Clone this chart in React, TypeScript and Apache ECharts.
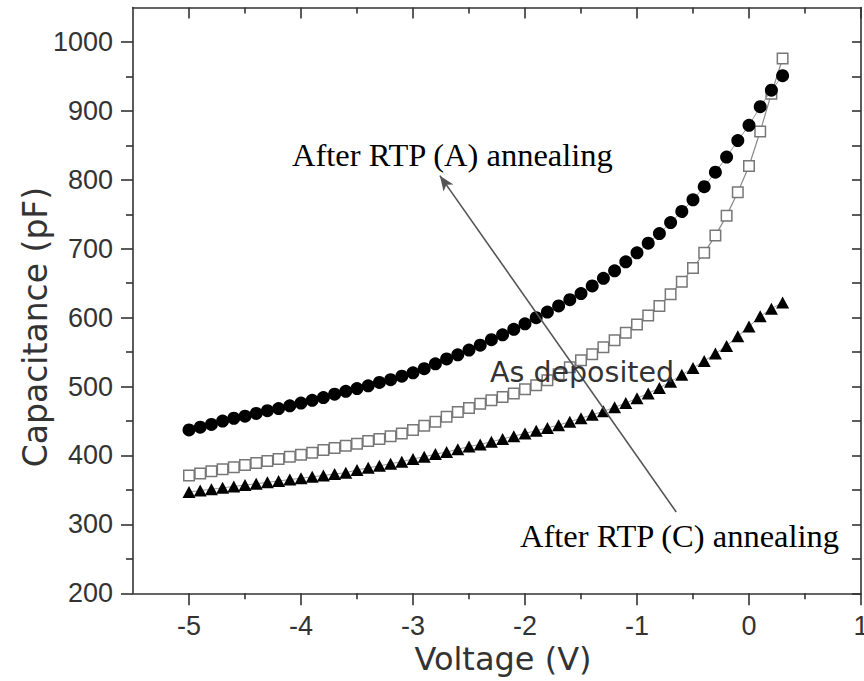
import React, { useEffect, useRef } from "react";
import * as echarts from "echarts";

// Bias voltage (V), 0.1 V steps
const voltage = [
  -5.0, -4.9, -4.8, -4.7, -4.6, -4.5, -4.4, -4.3, -4.2, -4.1,
  -4.0, -3.9, -3.8, -3.7, -3.6, -3.5, -3.4, -3.3, -3.2, -3.1,
  -3.0, -2.9, -2.8, -2.7, -2.6, -2.5, -2.4, -2.3, -2.2, -2.1,
  -2.0, -1.9, -1.8, -1.7, -1.6, -1.5, -1.4, -1.3, -1.2, -1.1,
  -1.0, -0.9, -0.8, -0.7, -0.6, -0.5, -0.4, -0.3, -0.2, -0.1,
  0.0, 0.1, 0.2, 0.3,
];

// Capacitance (pF) after RTP (A) annealing
const capRtpA = [
  437, 441, 445, 450, 454, 457, 461, 465, 468, 472,
  476, 480, 484, 489, 493, 497, 501, 506, 510, 515,
  520, 526, 533, 540, 546, 553, 560, 568, 575, 583,
  591, 600, 608, 617, 626, 635, 646, 657, 668, 681,
  694, 708, 722, 738, 754, 771, 790, 811, 833, 857,
  879, 906, 930, 951,
];

// Capacitance (pF) as deposited
const capAsDeposited = [
  371, 374, 377, 380, 383, 386, 389, 392, 395, 398,
  401, 404, 408, 411, 414, 417, 421, 424, 428, 432,
  437, 443, 449, 456, 463, 469, 475, 480, 485, 490,
  496, 502, 509, 518, 528, 538, 547, 557, 567, 578,
  590, 603, 617, 634, 652, 672, 694, 719, 748, 782,
  820, 870, 925, 976,
];

// Capacitance (pF) after RTP (C) annealing
const capRtpC = [
  347, 349, 351, 353, 355, 357, 359, 361, 363, 365,
  367, 369, 371, 373, 375, 379, 382, 385, 388, 391,
  395, 398, 402, 405, 409, 413, 416, 420, 424, 428,
  432, 436, 440, 444, 449, 454, 459, 464, 470, 476,
  483, 490, 498, 507, 517, 527, 537, 548, 559, 573,
  587, 602, 613, 622,
];

// Axis ticks and labels
const xMajorTicks = [-5, -4, -3, -2, -1, 0, 1];
const xMinorTicks = [-4.5, -3.5, -2.5, -1.5, -0.5, 0.5];
const yMajorTicks = [200, 300, 400, 500, 600, 700, 800, 900, 1000];
const yMinorTicks = [250, 350, 450, 550, 650, 750, 850, 950];

// Arrow from the lower annotation up to the upper one: [voltage, capacitance]
const arrowFrom = [-0.65, 318];
const arrowTo = [-2.76, 806];

const AXIS_COLOR = "#333";
const SANS = "'DejaVu Sans', Verdana, sans-serif";
const LABEL_FONT = "'Liberation Sans', Arial, sans-serif";
const SERIF = "'Liberation Serif', 'Times New Roman', serif";

const pairs = (ys: number[]) => voltage.map((v, i) => [v, ys[i]]);

const X_RANGE = { min: -5.5, max: 1 };
const Y_RANGE = { min: 200, max: 1050 };

function tickAxis(
  position: string,
  values: number[],
  length: number,
  inside: boolean,
  withLine: boolean,
  range: { min: number; max: number }
) {
  return {
    type: "value",
    position,
    ...range,
    splitLine: { show: false },
    axisLine: {
      show: withLine,
      onZero: false,
      lineStyle: { color: AXIS_COLOR, width: 1.6 },
    },
    axisTick: {
      show: true,
      inside,
      length,
      customValues: values,
      lineStyle: { color: AXIS_COLOR, width: 1.6 },
    },
    axisLabel: { show: false },
  };
}

export default function App() {
  const ref = useRef<HTMLDivElement>(null);

  useEffect(() => {
    if (!ref.current) return;
    const chart = echarts.init(ref.current, null, { renderer: "svg" });

    const labelStyle = {
      fontSize: 27,
      fontFamily: LABEL_FONT,
      color: AXIS_COLOR,
      formatter: (v: number) => String(v),
    };

    chart.setOption({
      animation: false,
      backgroundColor: "#fff",
      grid: {
        left: 133,
        top: 7.5,
        width: 728,
        height: 585.8,
        containLabel: false,
        outerBoundsMode: "none",
      },
      xAxis: [
        {
          ...tickAxis("bottom", xMajorTicks, 12, false, true, X_RANGE),
          axisLabel: { show: true, customValues: xMajorTicks, margin: 19, ...labelStyle },
        },
        tickAxis("bottom", xMinorTicks, 6, false, false, X_RANGE),
        tickAxis("top", xMajorTicks, 11, true, true, X_RANGE),
        tickAxis("top", xMinorTicks, 6, true, false, X_RANGE),
      ],
      yAxis: [
        {
          ...tickAxis("left", yMajorTicks, 12, false, true, Y_RANGE),
          axisLabel: { show: true, customValues: yMajorTicks, margin: 20, ...labelStyle },
        },
        tickAxis("left", yMinorTicks, 7, false, false, Y_RANGE),
        tickAxis("right", yMajorTicks, 9, true, true, Y_RANGE),
        tickAxis("right", yMinorTicks, 9, true, false, Y_RANGE),
      ],
      series: [
        {
          name: "As deposited",
          type: "line",
          data: pairs(capAsDeposited),
          symbol: "rect",
          symbolSize: 10.5,
          showAllSymbol: true,
          lineStyle: { color: "#8a8a8a", width: 1.2 },
          itemStyle: { color: "#fff", borderColor: "#777", borderWidth: 1.5 },
          z: 2,
        },
        {
          name: "After RTP (A) annealing",
          type: "line",
          data: pairs(capRtpA),
          symbol: "circle",
          symbolSize: 13,
          showAllSymbol: true,
          lineStyle: { color: "#999", width: 1 },
          itemStyle: { color: "#000" },
          z: 3,
        },
        {
          name: "After RTP (C) annealing",
          type: "line",
          data: pairs(capRtpC),
          symbol: "triangle",
          symbolSize: [13, 12],
          showAllSymbol: true,
          lineStyle: { color: "#999", width: 1 },
          itemStyle: { color: "#000" },
          z: 3,
          markLine: {
            silent: true,
            symbol: ["none", "arrow"],
            symbolSize: [9, 15],
            label: { show: false },
            lineStyle: { color: "#555", width: 1.6, type: "solid" },
            data: [[{ coord: arrowFrom }, { coord: arrowTo }]],
          },
        },
      ],
      graphic: [
        {
          type: "text",
          x: 35,
          y: 327,
          rotation: Math.PI / 2,
          style: {
            text: "Capacitance (pF)",
            font: `33px ${SANS}`,
            fill: AXIS_COLOR,
            align: "center",
            verticalAlign: "middle",
          },
        },
        {
          type: "text",
          x: 503,
          y: 659,
          style: {
            text: "Voltage (V)",
            font: `32px ${SANS}`,
            fill: AXIS_COLOR,
            align: "center",
            verticalAlign: "middle",
          },
        },
        {
          type: "text",
          x: 292,
          y: 155,
          z: 10,
          style: {
            text: "After RTP (A) annealing",
            font: `32.5px ${SERIF}`,
            fill: "#000",
            align: "left",
            verticalAlign: "middle",
          },
        },
        {
          type: "text",
          x: 490,
          y: 372,
          z: 10,
          style: {
            text: "As deposited",
            font: `28.5px ${SANS}`,
            fill: "#333",
            align: "left",
            verticalAlign: "middle",
          },
        },
        {
          type: "text",
          x: 520,
          y: 536,
          z: 10,
          style: {
            text: "After RTP (C) annealing",
            font: `32.5px ${SERIF}`,
            fill: "#000",
            align: "left",
            verticalAlign: "middle",
          },
        },
      ],
    });

    return () => chart.dispose();
  }, []);

  return (
    <div
      ref={ref}
      style={{ position: "fixed", left: 0, top: 0, width: 864, height: 681, background: "#fff" }}
    />
  );
}
